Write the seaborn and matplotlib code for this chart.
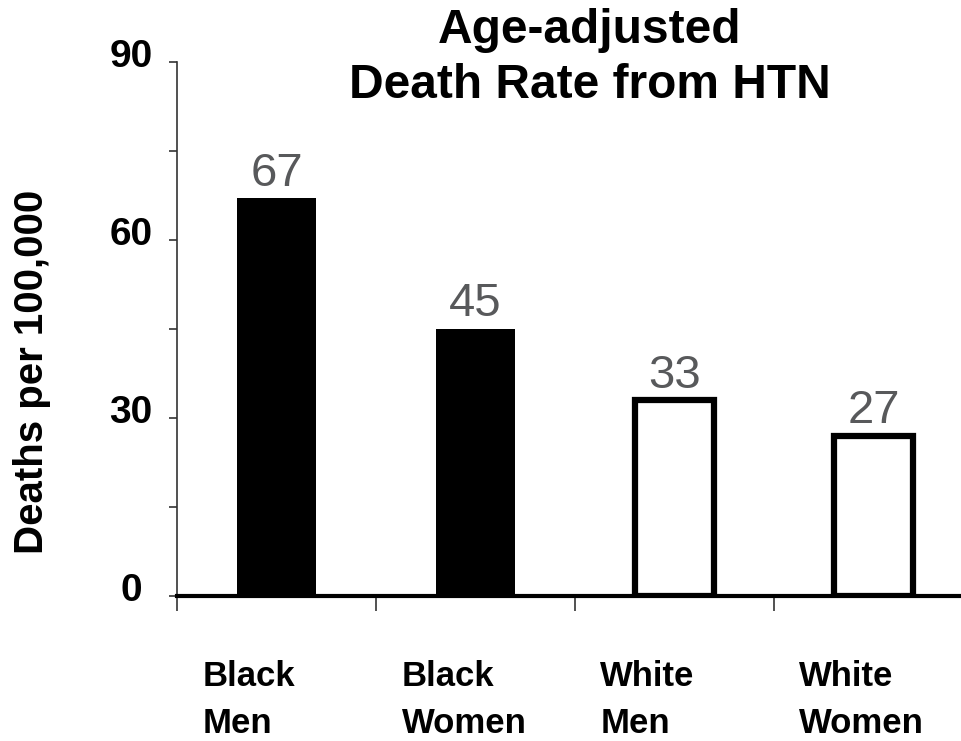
import matplotlib
matplotlib.use("Agg")
import matplotlib.pyplot as plt
import matplotlib.transforms as mtransforms
import seaborn as sns
import pandas as pd

# Chart data
categories = ["Black\nMen", "Black\nWomen", "White\nMen", "White\nWomen"]
death_rates = [67, 45, 33, 27]
bar_fills = ["black", "black", "white", "white"]
y_ticks = [0, 30, 60, 90]
y_minor_ticks = [15, 45, 75]
title_text = "Age-adjusted\nDeath Rate from HTN"
y_label = "Deaths per 100,000"

sns.set_theme(style="white")
plt.rcParams["font.family"] = ["Liberation Sans", "DejaVu Sans"]
plt.rcParams["text.color"] = "black"
plt.rcParams["axes.labelcolor"] = "black"
plt.rcParams["xtick.color"] = "black"
plt.rcParams["ytick.color"] = "black"

W, H = 961, 741
fig = plt.figure(figsize=(W / 100, H / 100), dpi=100)
ax = fig.add_axes([177 / W, 1 - 596 / H, 784 / W, 534 / H])

df = pd.DataFrame({"group": categories, "rate": death_rates})
sns.barplot(data=df, x="group", y="rate", hue="group", palette=bar_fills,
            legend=False, width=0.4, saturation=1, ax=ax, zorder=3)

for patch, fill, val in zip(ax.patches, bar_fills, death_rates):
    patch.set_facecolor(fill)
    patch.set_edgecolor("black")
    patch.set_linewidth(4.5 if fill == "white" else 0)
    ax.annotate(str(val), (patch.get_x() + patch.get_width() / 2, val),
                xytext=(0, 9), textcoords="offset points",
                ha="center", va="baseline", fontsize=34, color="#58595b")

# y axis
ax.set_ylim(0, 90)
ax.set_yticks(y_ticks)
ax.set_yticks(y_minor_ticks, minor=True)
ax.tick_params(axis="y", which="both", direction="out", length=6, width=1.2,
               color="#333333", left=True)
ax.tick_params(axis="y", which="major", pad=27, labelsize=28)
up = mtransforms.ScaledTranslation(0, 9 / 100, fig.dpi_scale_trans)
for lab in ax.get_yticklabels():
    lab.set_fontweight("bold")
    lab.set_horizontalalignment("center")
    lab.set_transform(lab.get_transform() + up)

# x axis
ax.set_xlim(-0.5, 3.44)
ax.set_xticks(range(len(categories)))
ax.set_xticklabels(categories, fontsize=25, fontweight="bold", ha="left",
                   linespacing=1.55)
ax.set_xticks([-0.5, 0.5, 1.5, 2.5], minor=True)
ax.tick_params(axis="x", which="major", length=0, pad=46)
ax.tick_params(axis="x", which="minor", direction="out", length=11, width=1.2,
               color="#333333", bottom=True)
left_shift = mtransforms.ScaledTranslation(-74 / 100, 0, fig.dpi_scale_trans)
for lab in ax.get_xticklabels():
    lab.set_transform(lab.get_transform() + left_shift)
ax.set_xlabel("")

# spines
for side in ["top", "right"]:
    ax.spines[side].set_visible(False)
ax.spines["left"].set_linewidth(1.2)
ax.spines["left"].set_color("#333333")
ax.spines["bottom"].set_linewidth(3)
ax.spines["bottom"].set_color("black")
ax.spines["bottom"].set_zorder(4)

ax.set_ylabel(y_label, fontsize=29, fontweight="bold", va="center")
ax.yaxis.set_label_coords(-0.185, 0.42)

fig.text(590 / W, 1 - 8 / H, title_text, ha="center", va="top",
         fontsize=34.5, fontweight="bold", linespacing=1.3)

fig.savefig("out.png", dpi=100)
